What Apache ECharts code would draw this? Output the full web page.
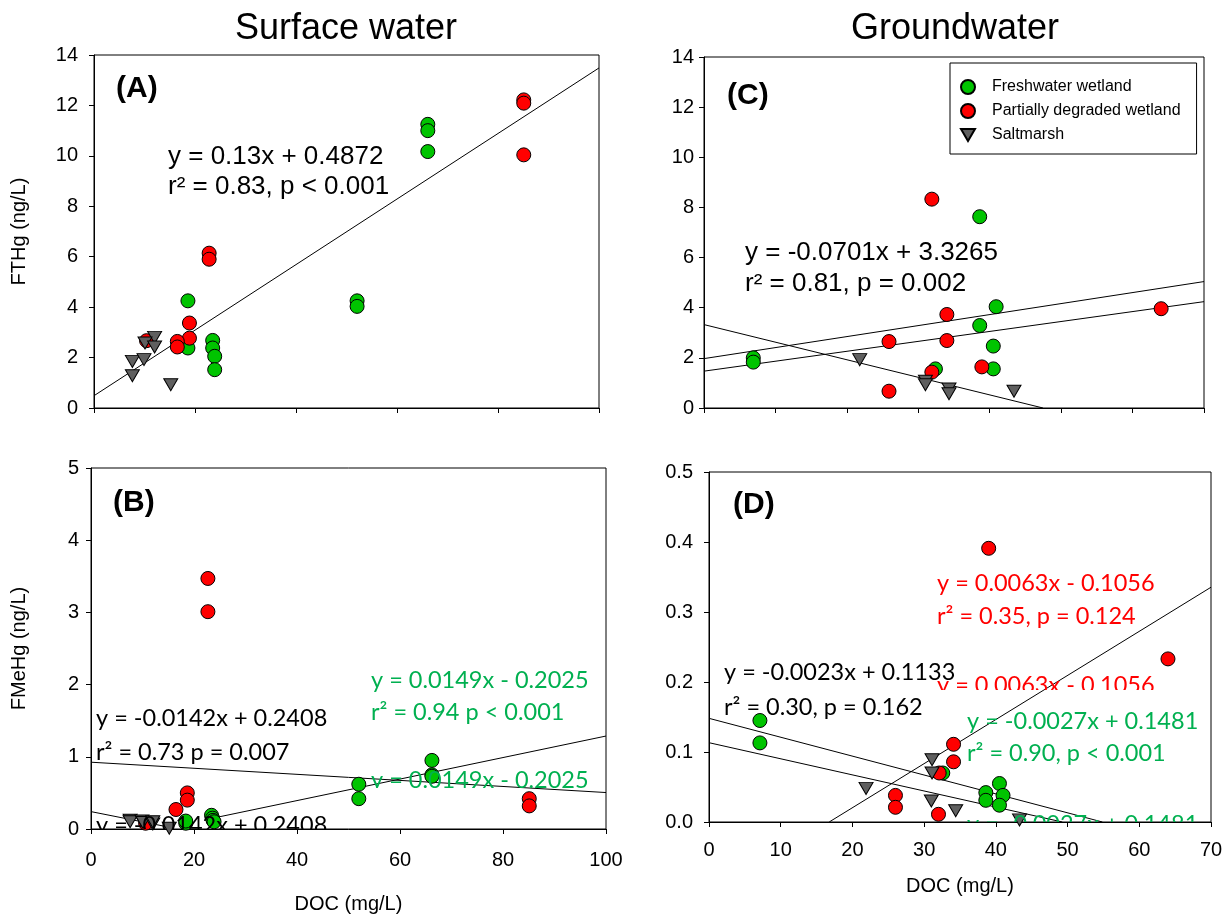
<!DOCTYPE html>
<html>
<head>
<meta charset="utf-8">
<script src="https://cdn.jsdelivr.net/npm/echarts@6/dist/echarts.min.js"></script>
<style>
  html, body { margin: 0; padding: 0; background: #ffffff; }
  #chart { width: 1232px; height: 918px; }
</style>
</head>
<body>
<div id="chart"></div>
<script>
// ---------- Data: [DOC (mg/L), concentration] ----------
// Surface water, FTHg (ng/L)
const surfThgFresh   = [[66.1, 11.25], [66.1, 11.0], [66.1, 10.17], [52.1, 4.25], [52.1, 4.03],
                        [18.6, 4.25], [18.6, 2.38], [23.5, 2.68], [23.5, 2.38], [23.9, 2.05], [23.9, 1.52]];
const surfThgPartial = [[85.1, 12.22], [85.1, 12.09], [85.1, 10.04], [22.8, 6.14], [22.8, 5.9],
                        [18.9, 3.37], [18.9, 2.77], [16.5, 2.64], [16.5, 2.42], [10.4, 2.67]];
const surfThgSalt    = [[12.0, 2.8], [10.1, 2.58], [12.0, 2.42], [7.6, 1.85], [9.9, 1.92], [7.6, 1.28], [15.2, 0.92]];

// Surface water, FMeHg (ng/L)
const surfMehgFresh   = [[66.2, 0.95], [66.2, 0.75], [66.2, 0.73], [52.0, 0.62], [52.0, 0.42],
                         [18.4, 0.08], [18.4, 0.11], [23.4, 0.19], [23.6, 0.15], [23.7, 0.12], [23.9, 0.1]];
const surfMehgPartial = [[22.7, 3.47], [22.7, 3.01], [18.7, 0.5], [18.7, 0.4], [16.5, 0.27],
                         [85.1, 0.42], [85.1, 0.32], [10.6, 0.08]];
const surfMehgSalt    = [[7.6, 0.12], [7.6, 0.1], [9.9, 0.11], [10.1, 0.09], [12.0, 0.07], [12.0, 0.1], [15.2, 0.01]];

// Groundwater, FTHg (ng/L)
const gwThgFresh   = [[38.6, 7.63], [40.9, 4.04], [38.6, 3.29], [40.5, 2.47], [40.5, 1.56],
                      [32.4, 1.56], [6.9, 2.0], [6.9, 1.83]];
const gwThgPartial = [[31.9, 8.33], [34.0, 3.73], [34.0, 2.69], [25.9, 2.65], [25.9, 0.67],
                      [31.9, 1.43], [38.9, 1.64], [64.0, 3.96]];
const gwThgSalt    = [[21.8, 1.93], [31.0, 1.07], [31.0, 0.93], [34.3, 0.76], [34.3, 0.57], [43.4, 0.67]];

// Groundwater, FMeHg (ng/L)
const gwMehgFresh   = [[7.1, 0.145], [7.1, 0.113], [32.6, 0.07], [40.5, 0.055], [38.6, 0.042],
                       [41.0, 0.038], [38.6, 0.031], [40.5, 0.024]];
const gwMehgPartial = [[39.0, 0.391], [64.0, 0.233], [34.1, 0.111], [34.1, 0.086], [32.1, 0.07],
                       [26.0, 0.038], [26.0, 0.021], [32.0, 0.011]];
const gwMehgSalt    = [[31.1, 0.089], [31.1, 0.07], [21.9, 0.048], [31.0, 0.03], [34.4, 0.016], [43.3, 0.003]];

// Fitted lines: [slope, intercept, xStart, xEnd]
const fitA        = [0.13, 0.4872, 0, 100];
const fitBSalt    = [-0.0142, 0.2408, 0, 15.2];
const fitBFresh   = [0.0149, -0.2025, 23.5, 100];
const fitBFlat    = [-0.0042, 0.925, 0, 100];
const fitCSalt    = [-0.0701, 3.3265, 0, 47.45];
const fitCUpper   = [0.0439, 1.97, 0, 70];
const fitCLower   = [0.0396, 1.47, 0, 70];
const fitDPartial = [0.0063, -0.1056, 16.76, 70];
const fitDSalt    = [-0.0023, 0.1133, 0, 49.26];
const fitDFresh   = [-0.0027, 0.1481, 0, 54.85];

// Axis ranges: [min, max, step]
const docTicksSurface = [0, 100, 20];
const docTicksGround  = [0, 70, 10];
const thgTicks        = [0, 14, 2];
const mehgSurfTicks   = [0, 5, 1];
const mehgGwTicks     = [0, 0.5, 0.1];

const seriesNames = ['Freshwater wetland', 'Partially degraded wetland', 'Saltmarsh'];

// ---------- Styling ----------
const ARIAL = "'Liberation Sans', Arial, sans-serif";
const SOFT = "Lato, 'Open Sans', sans-serif";
const SOFT_SIZE = 23.5;
const GREEN = '#00c400', RED = '#ff0000', GREY = '#5f5f5f', TXT_GREEN = '#00b050';
const DOWN_TRIANGLE = 'path://M0,0L14,0L7,12Z';

const chart = echarts.init(document.getElementById('chart'), null, { renderer: 'canvas' });

function scatter(name, data, idx, color, tri) {
  return {
    type: 'scatter', name, data, xAxisIndex: idx, yAxisIndex: idx,
    symbol: tri ? DOWN_TRIANGLE : 'circle',
    symbolSize: tri ? [14, 12] : 14,
    itemStyle: { color, borderColor: '#000', borderWidth: 1, opacity: 1 },
    emphasis: { disabled: true }, silent: true, z: 3
  };
}

function fitLine(fit, idx) {
  const [m, b, x0, x1] = fit;
  return {
    type: 'line', data: [[x0, m * x0 + b], [x1, m * x1 + b]],
    xAxisIndex: idx, yAxisIndex: idx, showSymbol: false, symbol: 'none',
    lineStyle: { color: '#000', width: 1 }, silent: true, z: 2, clip: true
  };
}

// Text cut off by the edge of a plotting rectangle
function clippedText(idx, text, color, x, y) {
  return {
    type: 'custom', xAxisIndex: idx, yAxisIndex: idx, clip: true, silent: true, z: 5,
    data: [[0, 0]],
    renderItem: () => ({
      type: 'text',
      style: { x, y, text, fill: color, fontSize: SOFT_SIZE, fontFamily: SOFT, verticalAlign: 'middle', align: 'left' }
    })
  };
}

function xAxis(gi, ticks, labels, name, nameGap, margin) {
  return {
    type: 'value', gridIndex: gi, min: ticks[0], max: ticks[1], interval: ticks[2],
    axisLine: { show: true, onZero: false, lineStyle: { color: '#000', width: 1 } },
    axisTick: { show: true, inside: false, length: 5, lineStyle: { color: '#000', width: 1 } },
    splitLine: { show: false },
    axisLabel: { show: labels, margin, color: '#000', fontSize: 20, fontFamily: ARIAL },
    name, nameLocation: 'middle', nameGap,
    nameTextStyle: { color: '#000', fontSize: 20, fontFamily: ARIAL }
  };
}

function yAxis(gi, ticks, name, nameGap, margin, decimals) {
  return {
    type: 'value', gridIndex: gi, min: ticks[0], max: ticks[1], interval: ticks[2],
    axisLine: { show: true, onZero: false, lineStyle: { color: '#000', width: 1 } },
    axisTick: { show: true, inside: false, length: 5, lineStyle: { color: '#000', width: 1 } },
    splitLine: { show: false },
    axisLabel: { show: true, margin, color: '#000', fontSize: 20, fontFamily: ARIAL,
                 formatter: v => v.toFixed(decimals) },
    name, nameLocation: 'middle', nameGap, nameRotate: 90,
    nameTextStyle: { color: '#000', fontSize: 20, fontFamily: ARIAL }
  };
}

function hiddenAxis(gi, min, max) {
  return { type: 'value', gridIndex: gi, min, max, show: false };
}

const gridStyle = { show: true, borderColor: '#000', borderWidth: 1, backgroundColor: 'transparent', outerBoundsMode: 'none' };

function label(text, x, y, size, color, family, weight, align) {
  return { type: 'text', x, y, silent: true, z: 10,
    style: { text, fill: color || '#000', fontSize: size, fontFamily: family || ARIAL,
             fontWeight: weight || 'normal', verticalAlign: 'middle', align: align || 'left' } };
}

const option = {
  animation: false,
  backgroundColor: '#ffffff',
  grid: [
    Object.assign({ left: 94,  top: 55,  width: 505, height: 353 }, gridStyle), // A
    Object.assign({ left: 91,  top: 468, width: 515, height: 361 }, gridStyle), // B
    Object.assign({ left: 704, top: 57,  width: 500, height: 351 }, gridStyle), // C
    Object.assign({ left: 709, top: 472, width: 502, height: 350 }, gridStyle), // D
    { left: 91,  top: 468, width: 515, height: 320, show: false, outerBoundsMode: 'none' }, // B, upper band
    { left: 709, top: 472, width: 502, height: 218, show: false, outerBoundsMode: 'none' }  // D, upper band
  ],
  xAxis: [
    xAxis(0, docTicksSurface, false, '', 0, 0),
    xAxis(1, docTicksSurface, true, 'DOC (mg/L)', 65, 21),
    xAxis(2, docTicksGround, false, '', 0, 0),
    xAxis(3, docTicksGround, true, 'DOC (mg/L)', 54, 18),
    hiddenAxis(4, 0, 100),
    hiddenAxis(5, 0, 70)
  ],
  yAxis: [
    yAxis(0, thgTicks, 'FTHg (ng/L)', 65, 16, 0),
    yAxis(1, mehgSurfTicks, 'FMeHg (ng/L)', 62, 12, 0),
    yAxis(2, thgTicks, '', 0, 10, 0),
    yAxis(3, mehgGwTicks, '', 0, 16, 1),
    hiddenAxis(4, 0, 1),
    hiddenAxis(5, 0, 1)
  ],
  legend: {
    orient: 'vertical', left: 950, top: 63,
    data: seriesNames,
    itemWidth: 14, itemHeight: 14, itemGap: 8,
    borderColor: '#000', borderWidth: 1, borderRadius: 0,
    padding: [16, 16, 11, 10],
    backgroundColor: '#ffffff',
    selectedMode: false,
    textStyle: { fontFamily: ARIAL, fontSize: 16, color: '#000', padding: [0, 0, 0, 12] }
  },
  graphic: [
    label('Surface water', 346, 29, 36, '#000', ARIAL, 'normal', 'center'),
    label('Groundwater', 955, 29, 36, '#000', ARIAL, 'normal', 'center'),
    label('(A)', 116, 89, 30, '#000', ARIAL, 'bold'),
    label('(B)', 113, 503, 30, '#000', ARIAL, 'bold'),
    label('(C)', 727, 96, 30, '#000', ARIAL, 'bold'),
    label('(D)', 733, 505, 30, '#000', ARIAL, 'bold'),
    label('y = 0.13x + 0.4872', 168, 157, 26),
    label('r² = 0.83, p < 0.001', 168, 187, 26),
    label('y = -0.0701x + 3.3265', 745, 253, 26),
    label('r² = 0.81, p = 0.002', 745, 284, 26),
    label('y = -0.0142x + 0.2408', 96, 718, SOFT_SIZE, '#000', SOFT),
    label('r² = 0.73 p = 0.007', 96, 752, SOFT_SIZE, '#000', SOFT),
    label('y = 0.0149x - 0.2025', 371, 680, SOFT_SIZE, TXT_GREEN, SOFT),
    label('r² = 0.94 p < 0.001', 371, 712, SOFT_SIZE, TXT_GREEN, SOFT),
    label('y = 0.0063x - 0.1056', 937, 583, SOFT_SIZE, RED, SOFT),
    label('r² = 0.35, p = 0.124', 937, 616, SOFT_SIZE, RED, SOFT),
    label('y = -0.0023x + 0.1133', 724, 672, SOFT_SIZE, '#000', SOFT),
    label('r² = 0.30, p = 0.162', 724, 707, SOFT_SIZE, '#000', SOFT),
    label('y = -0.0027x + 0.1481', 967, 721, SOFT_SIZE, TXT_GREEN, SOFT),
    label('r² = 0.90, p < 0.001', 967, 753, SOFT_SIZE, TXT_GREEN, SOFT)
  ],
  series: [
    // A
    fitLine(fitA, 0),
    scatter(seriesNames[0], surfThgFresh, 0, GREEN, false),
    scatter(seriesNames[1], surfThgPartial, 0, RED, false),
    scatter(seriesNames[2], surfThgSalt, 0, GREY, true),
    // B
    fitLine(fitBSalt, 1), fitLine(fitBFresh, 1), fitLine(fitBFlat, 1),
    scatter(seriesNames[0], surfMehgFresh, 1, GREEN, false),
    scatter(seriesNames[1], surfMehgPartial, 1, RED, false),
    scatter(seriesNames[2], surfMehgSalt, 1, GREY, true),
    clippedText(1, 'y = -0.0142x + 0.2408', '#000', 96, 825),
    clippedText(4, 'y = 0.0149x - 0.2025', TXT_GREEN, 371, 780),
    // C
    fitLine(fitCSalt, 2), fitLine(fitCUpper, 2), fitLine(fitCLower, 2),
    scatter(seriesNames[0], gwThgFresh, 2, GREEN, false),
    scatter(seriesNames[1], gwThgPartial, 2, RED, false),
    scatter(seriesNames[2], gwThgSalt, 2, GREY, true),
    // D
    fitLine(fitDPartial, 3), fitLine(fitDSalt, 3), fitLine(fitDFresh, 3),
    scatter(seriesNames[0], gwMehgFresh, 3, GREEN, false),
    scatter(seriesNames[1], gwMehgPartial, 3, RED, false),
    scatter(seriesNames[2], gwMehgSalt, 3, GREY, true),
    clippedText(5, 'y = 0.0063x - 0.1056', RED, 937, 685),
    clippedText(3, 'y = -0.0027x + 0.1481', TXT_GREEN, 967, 824)
  ]
};

chart.setOption(option);
</script>
</body>
</html>
